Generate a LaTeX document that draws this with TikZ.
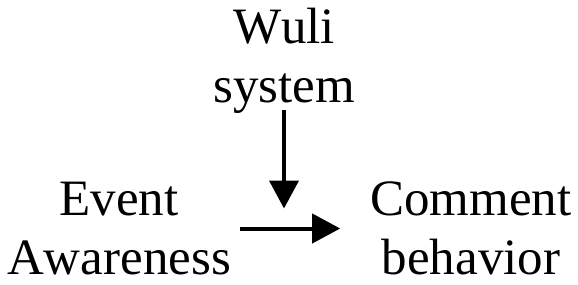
\documentclass[tikz,border=0pt]{standalone}
\usepackage{fontspec}
\setmainfont[Kerning=Off]{Liberation Serif}
\usetikzlibrary{arrows.meta,positioning}

\begin{document}
\begin{tikzpicture}[
  x=1pt, y=-1pt,
  label/.style={align=center, inner sep=0pt, font=\fontsize{51}{59}\selectfont},
  arrow/.style={-{Triangle[length=28pt,width=29pt]}, line width=4pt, draw=black}
]
\useasboundingbox (0,0) rectangle (578,284);

\node[label] (wuli) at (284,60.5) {Wuli\\system};
\node[label] (event) at (119,228.5) {Event\\Awareness};
\node[label] (comment) at (471,228) {Comment\\behavior};

\draw[arrow, shorten <=9pt, shorten >=30pt] (event.east) -- (comment.west |- event.east);
\coordinate (mid) at (wuli.south |- event.east);
\draw[arrow, shorten <=-3pt, shorten >=20pt] (wuli.south) -- (mid);

\end{tikzpicture}
\end{document}
